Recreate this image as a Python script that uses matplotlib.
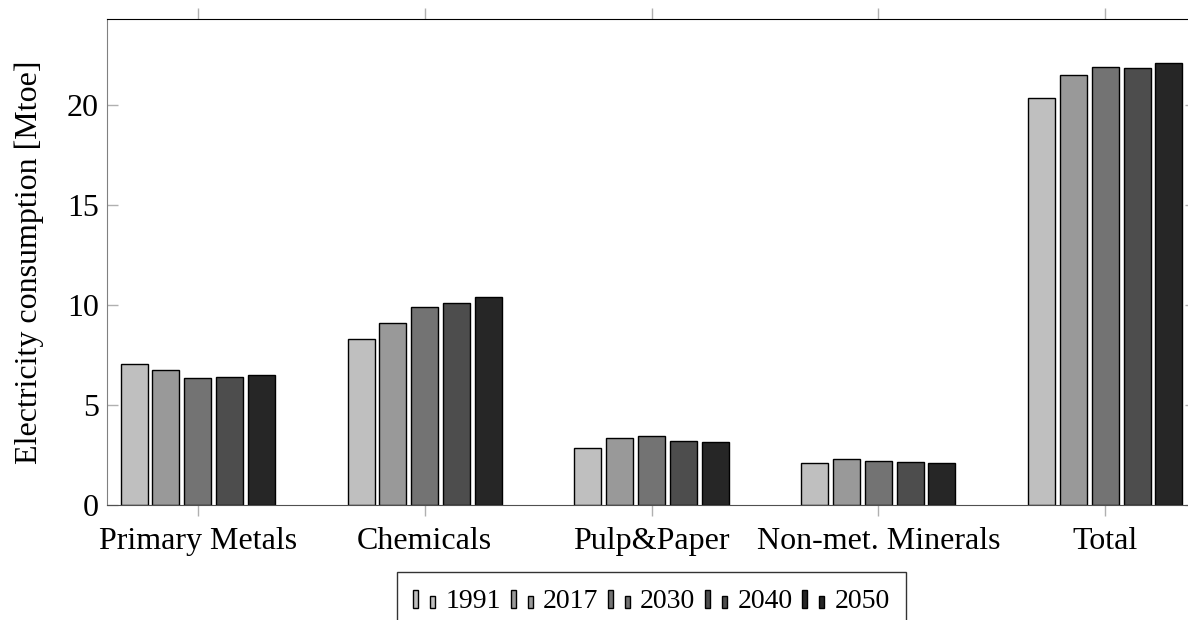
import numpy as np
import matplotlib
matplotlib.use('Agg')
from matplotlib import pyplot as plt
from matplotlib.patches import Rectangle
from matplotlib.legend_handler import HandlerBase

# data
sectors = ['Primary Metals', 'Chemicals', 'Pulp&Paper', 'Non-met. Minerals', 'Total']
years = ['1991', '2017', '2030', '2040', '2050']
v1991 = [7.05, 8.32, 2.86, 2.10, 20.33]
v2017 = [6.73, 9.12, 3.35, 2.30, 21.50]
v2030 = [6.37, 9.88, 3.43, 2.22, 21.90]
v2040 = [6.40, 10.08, 3.20, 2.15, 21.83]
v2050 = [6.52, 10.38, 3.13, 2.08, 22.08]
series = [v1991, v2017, v2030, v2040, v2050]
colors = ['#bfbfbf', '#999999', '#737373', '#4d4d4d', '#262626']

plt.rcParams['font.family'] = ['Liberation Serif', 'DejaVu Serif']


class TwoBars(HandlerBase):
    # pgfplots-style ybar legend glyph: two small bars
    def create_artists(self, legend, orig_handle, xdescent, ydescent,
                       width, height, fontsize, trans):
        fc = orig_handle.get_facecolor()
        w = width * 0.24
        r1 = Rectangle((-xdescent, -ydescent), w, height * 0.95,
                       facecolor=fc, edgecolor='black', lw=1, transform=trans)
        r2 = Rectangle((-xdescent + width * 0.8, -ydescent), w, height * 0.62,
                       facecolor=fc, edgecolor='black', lw=1, transform=trans)
        return [r1, r2]


fig = plt.figure(figsize=(11.88, 6.2), dpi=100)
ax = fig.add_axes([107 / 1188, 1 - 505 / 620, (1196 - 107) / 1188, (505 - 19) / 620])

x = np.arange(len(sectors))
pitch = 0.14
width = 0.119
handles = []
for i, (vals, c) in enumerate(zip(series, colors)):
    b = ax.bar(x + (i - 2) * pitch, vals, width, color=c, edgecolor='black',
               linewidth=1, label=years[i])
    handles.append(b.patches[0])

ax.set_xlim(-0.4, 4.4)
ax.set_ylim(0, 24.3)
ax.set_xticks(x)
ax.set_xticklabels(sectors)
ax.set_yticks([0, 5, 10, 15, 20])

ax.tick_params(axis='x', direction='out', top=True, length=8, width=1,
               color='#b0b0b0', labelsize=23, pad=8)
ax.tick_params(axis='y', direction='in', right=True, length=8, width=1,
               color='#b0b0b0', labelsize=23, pad=6)
ax.spines['top'].set_color('black')
ax.spines['left'].set_color('#808080')
ax.spines['bottom'].set_color('#505050')
ax.spines['right'].set_color('black')

ax.set_ylabel('Electricity consumption [Mtoe]', fontsize=23, labelpad=16)

leg = ax.legend(handles, years, loc='upper center', bbox_to_anchor=(0.5, -0.138),
                ncol=5, fontsize=20, frameon=True, fancybox=False,
                edgecolor='black', handler_map={Rectangle: TwoBars()},
                handlelength=0.75, handletextpad=0.4, columnspacing=0.36,
                borderpad=0.6, borderaxespad=0)
leg.get_frame().set_linewidth(1)

fig.savefig('out.png', dpi=100)
